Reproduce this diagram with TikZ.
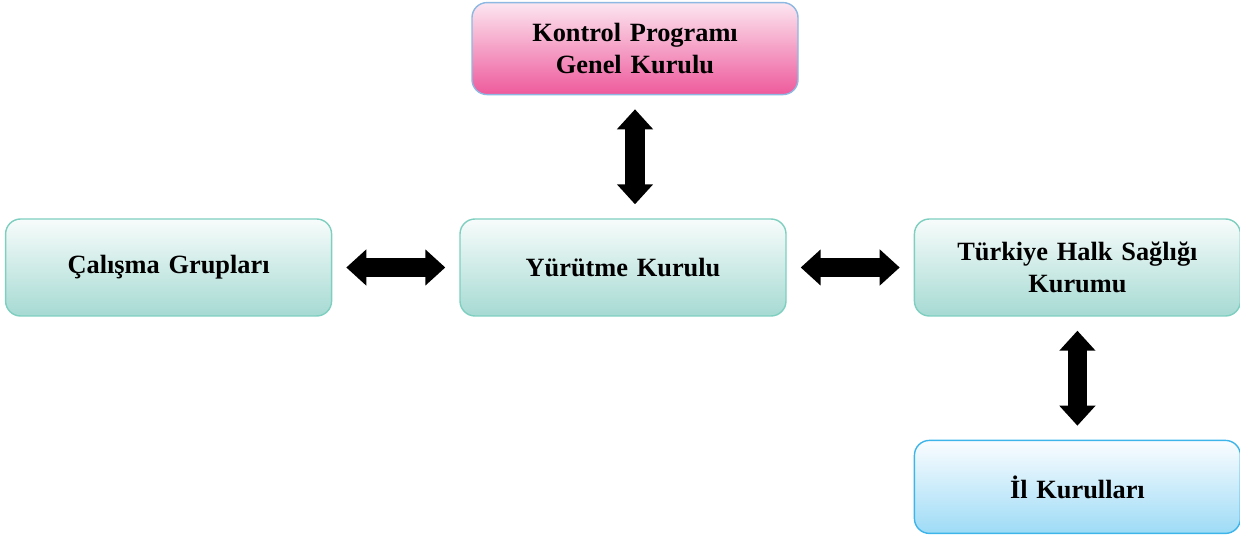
\documentclass[tikz,border=0pt]{standalone}
\usepackage{fontspec}
\setmainfont{Liberation Serif}
\usepackage{tikz}
\usetikzlibrary{positioning, arrows.meta}

\definecolor{tealborder}{HTML}{7ECFC0}
\definecolor{tealtop}{HTML}{F7FCFB}
\definecolor{tealbottom}{HTML}{A6DAD3}
\definecolor{pinkborder}{HTML}{8DB8E2}
\definecolor{pinktop}{HTML}{FCE6F0}
\definecolor{pinkbottom}{HTML}{EE5A9C}
\definecolor{blueborder}{HTML}{3DB5EA}
\definecolor{bluetop}{HTML}{FAFDFF}
\definecolor{bluebottom}{HTML}{9EDBF6}

\begin{document}
\begin{tikzpicture}[node distance=2.54cm, font=\fontsize{15pt}{18.5pt}\selectfont\bfseries]
    % Define styles
    \tikzstyle{council} = [rectangle, rounded corners=0.3cm, minimum width=6.52cm, minimum height=1.94cm, align=center, text width=6.2cm, draw=tealborder, line width=0.8pt, top color=tealtop, bottom color=tealbottom]
    \tikzstyle{general} = [council, minimum height=1.84cm, draw=pinkborder, top color=pinktop, bottom color=pinkbottom]
    \tikzstyle{province} = [council, minimum height=1.86cm, draw=blueborder, top color=bluetop, bottom color=bluebottom]
    \tikzstyle{arrow} = [line width=0.39cm, {Triangle[length=0.4cm, width=0.7cm]}-{Triangle[length=0.4cm, width=0.7cm]}, shorten >=0.28cm, shorten <=0.28cm]

    \useasboundingbox (0,0) rectangle (24.8,-10.78);

    % Nodes
    \node (yurutme) [council] at (12.46,-5.35) {Yürütme Kurulu};
    \node (calisma) [council, left=of yurutme] {Çalışma Grupları};
    \node (thsk) [council, right=of yurutme] {Türkiye Halk Sağlığı\\Kurumu};
    \node (genel) [general, above=2.46cm of yurutme, xshift=0.24cm] {Kontrol Programı\\Genel Kurulu};
    \node (il) [province, below=2.46cm of thsk] {İl Kurulları};

    % Arrows
    \draw [arrow] (genel.south) -- (genel.south |- yurutme.north);
    \draw [arrow] (calisma) -- (yurutme);
    \draw [arrow] (yurutme) -- (thsk);
    \draw [arrow] (thsk) -- (il);
\end{tikzpicture}
\end{document}
